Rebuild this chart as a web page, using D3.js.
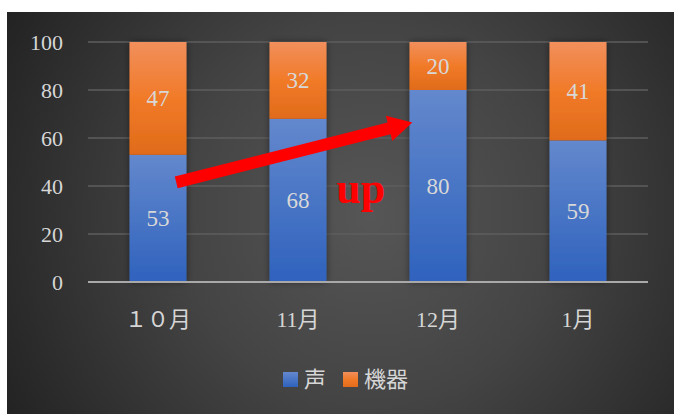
<!DOCTYPE html>
<html><head><meta charset="utf-8">
<script src="https://cdn.jsdelivr.net/npm/d3@7"></script>
<style>html,body{margin:0;padding:0;background:#fff;}</style>
</head><body>
<svg id="c" width="674" height="414"></svg>
<script>
const categories = ["１０月", "11月", "12月", "1月"];
const voiceValues = [53, 68, 80, 59];
const deviceValues = [47, 32, 20, 41];
const seriesNames = ["声", "機器"];
const yTicks = [0, 20, 40, 60, 80, 100];
const annotation = { text: "up", arrowFrom: [0, 0.82, 41.5], arrowTo: [2, 0.05, 66.5], textAt: [1, 1.6, 33] };

const svg = d3.select("#c");
const W = 674, H = 414;
const defs = svg.append("defs");

const bg = defs.append("radialGradient").attr("id","bg").attr("gradientUnits","userSpaceOnUse")
  .attr("cx",370).attr("cy",215).attr("r",420);
bg.append("stop").attr("offset","0").attr("stop-color","#565656");
bg.append("stop").attr("offset","0.45").attr("stop-color","#444444");
bg.append("stop").attr("offset","1").attr("stop-color","#222222");

const gBlue = defs.append("linearGradient").attr("id","gBlue").attr("x1",0).attr("y1",0).attr("x2",0).attr("y2",1);
gBlue.append("stop").attr("offset","0").attr("stop-color","#6388cd");
gBlue.append("stop").attr("offset","1").attr("stop-color","#2f62bd");
const gOr = defs.append("linearGradient").attr("id","gOr").attr("x1",0).attr("y1",0).attr("x2",0).attr("y2",1);
gOr.append("stop").attr("offset","0").attr("stop-color","#f18f5c");
gOr.append("stop").attr("offset","0.5").attr("stop-color","#f17a28");
gOr.append("stop").attr("offset","1").attr("stop-color","#e06b1a");

const sh = defs.append("filter").attr("id","sh").attr("x","-30%").attr("y","-10%").attr("width","160%").attr("height","120%");
sh.append("feGaussianBlur").attr("in","SourceAlpha").attr("stdDeviation",3.5).attr("result","b");
sh.append("feComponentTransfer").attr("in","b").attr("result","b2").append("feFuncA").attr("type","linear").attr("slope",0.45);
const m = sh.append("feMerge"); m.append("feMergeNode").attr("in","b2"); m.append("feMergeNode").attr("in","SourceGraphic");

svg.append("rect").attr("x",7).attr("y",12).attr("width",W-7).attr("height",H-12).attr("fill","url(#bg)");

const x = d3.scaleBand().domain(categories).range([88,648]).paddingInner(0.593).paddingOuter(0.2965);
const y = d3.scaleLinear().domain([0,100]).range([282,42]);

// grid
svg.append("g").selectAll("line").data(yTicks.filter(d=>d>0)).join("line")
  .attr("x1",88).attr("x2",648).attr("y1",d=>y(d)).attr("y2",d=>y(d))
  .attr("stroke","#5e5e5e").attr("stroke-width",1.3);

// y axis labels
const yAxis = d3.axisLeft(y).tickValues(yTicks).tickSize(0).tickPadding(0);
const ya = svg.append("g").attr("transform","translate(63,0)").call(yAxis);
ya.select(".domain").remove();
ya.selectAll("text").attr("fill","#d6d6d6").attr("font-family","'Liberation Serif', serif").attr("font-size",22).attr("dy","0.36em");

const stacked = categories.map((c,i)=>({c, v:voiceValues[i], d:deviceValues[i]}));
const bars = svg.append("g");
const grp = bars.selectAll("g").data(stacked).join("g").attr("filter","url(#sh)");
grp.append("rect").attr("x",d=>x(d.c)).attr("width",x.bandwidth())
  .attr("y",d=>y(d.v)).attr("height",d=>y(0)-y(d.v)).attr("fill","url(#gBlue)");
grp.append("rect").attr("x",d=>x(d.c)).attr("width",x.bandwidth())
  .attr("y",d=>y(d.v+d.d)).attr("height",d=>y(d.v)-y(d.v+d.d)).attr("fill","url(#gOr)");

// baseline
svg.append("line").attr("x1",88).attr("x2",648).attr("y1",y(0)).attr("y2",y(0))
  .attr("stroke","#a9a9a9").attr("stroke-width",2.2);

// data labels
const lab = svg.append("g").attr("fill","#d8d8d8").attr("font-family","'Liberation Serif', serif").attr("font-size",23).attr("text-anchor","middle");
lab.selectAll(".lv").data(stacked).join("text").attr("class","lv")
  .attr("x",d=>x(d.c)+x.bandwidth()/2).attr("y",d=>y(d.v/2)).attr("dy","0.35em").text(d=>d.v);
lab.selectAll(".ld").data(stacked).join("text").attr("class","ld")
  .attr("x",d=>x(d.c)+x.bandwidth()/2).attr("y",d=>y(d.v+d.d/2)).attr("dy","0.35em").text(d=>d.d);

// x axis labels
const xa = svg.append("g").attr("transform",`translate(0,${y(0)+45})`)
  .call(d3.axisBottom(x).tickSize(0).tickPadding(0));
xa.select(".domain").remove();
xa.selectAll("text").attr("fill","#d6d6d6").attr("font-family","'Liberation Serif','Noto Sans CJK JP', serif").attr("font-size",22).attr("dy","0");

// arrow
const ax = a => x(categories[a[0]]) + x.bandwidth()*a[1];
const x1 = ax(annotation.arrowFrom), y1 = y(annotation.arrowFrom[2]);
const x2 = ax(annotation.arrowTo), y2 = y(annotation.arrowTo[2]);
const ang = Math.atan2(y2-y1, x2-x1);
const len = Math.hypot(x2-x1, y2-y1);
const hw = 6, headL = 24, headW = 13;
const arrowPts = [[0,-hw],[len-headL,-hw],[len-headL,-headW],[len,0],[len-headL,headW],[len-headL,hw],[0,hw]];
svg.append("polygon").attr("points", arrowPts.map(p=>p.join(",")).join(" "))
  .attr("fill","#ff0000")
  .attr("transform",`translate(${x1},${y1}) rotate(${ang*180/Math.PI})`);

svg.append("text").attr("x",ax(annotation.textAt)).attr("y",y(annotation.textAt[2]))
  .attr("text-anchor","middle").attr("fill","#ff0000").attr("font-weight","bold")
  .attr("font-family","'Liberation Serif', serif").attr("font-size",44).text(annotation.text);

// legend
const colors = ["url(#gBlue)","url(#gOr)"];
const leg = svg.append("g");
const legX = [283, 343];
seriesNames.forEach((n,i)=>{
  leg.append("rect").attr("x",legX[i]).attr("y",372).attr("width",15).attr("height",15).attr("fill",colors[i]);
  leg.append("text").attr("x",legX[i]+21).attr("y",387).attr("fill","#d6d6d6")
    .attr("font-family","'Noto Sans CJK JP', sans-serif").attr("font-size",22).text(n);
});
</script>
</body></html>
